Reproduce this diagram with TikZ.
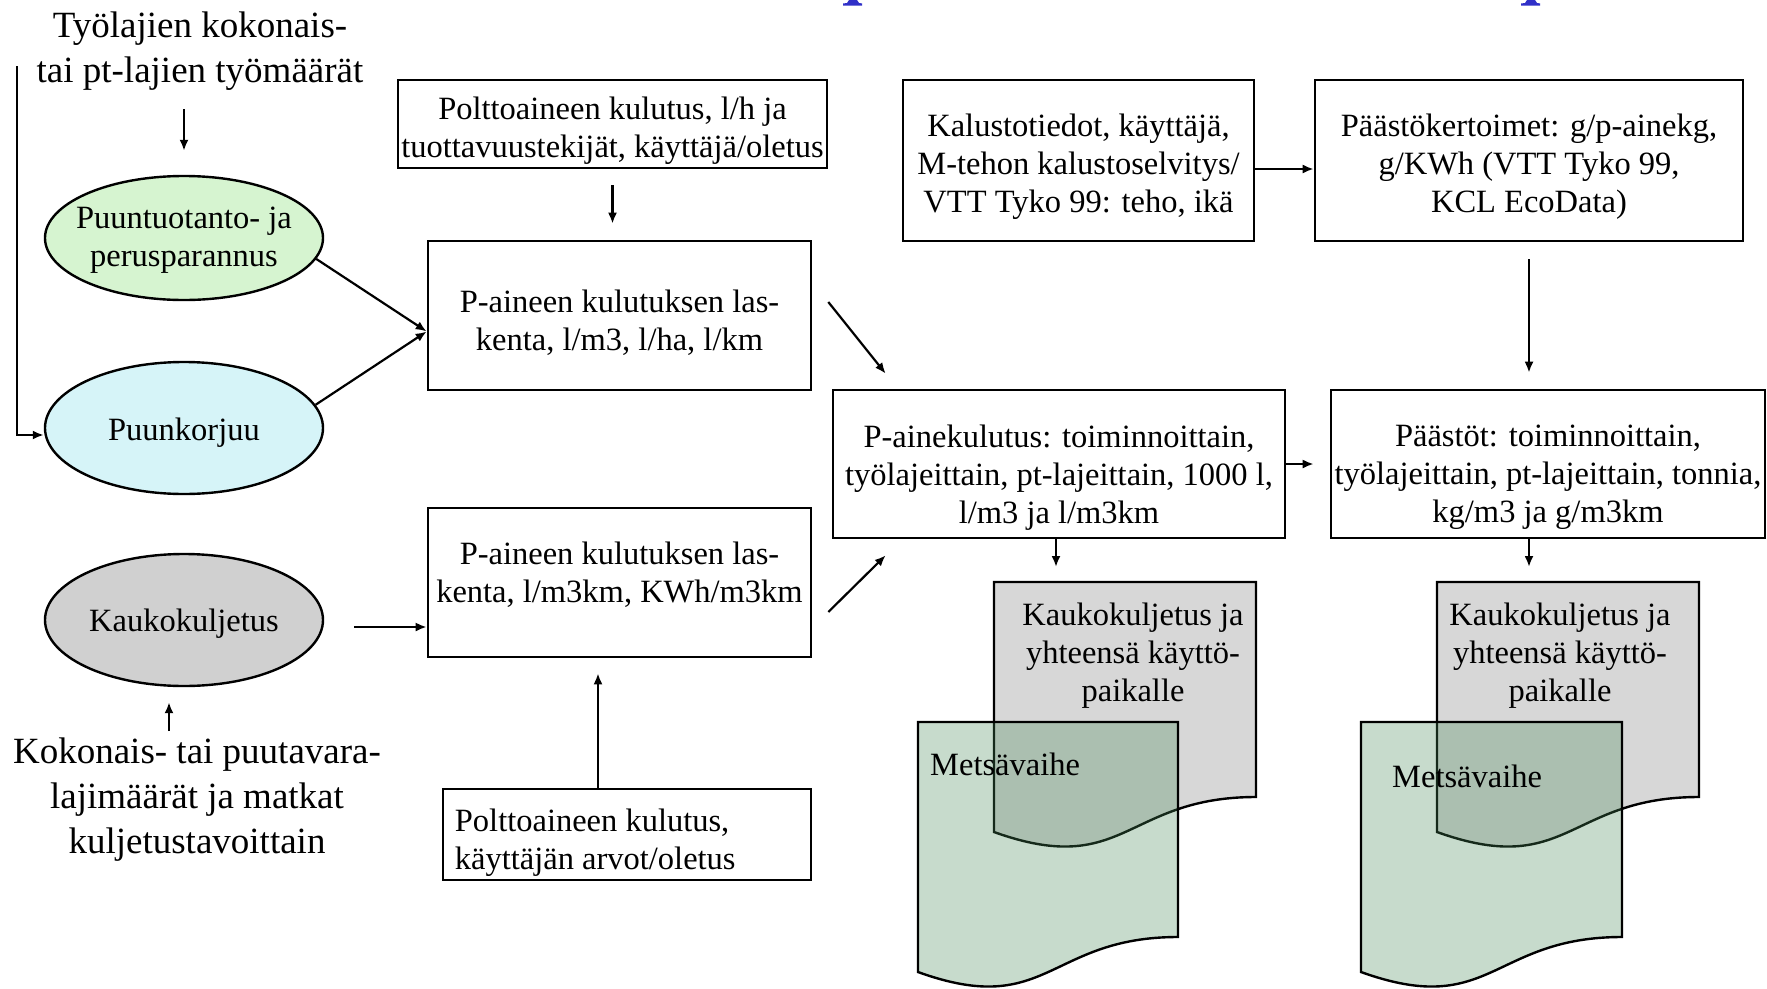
\documentclass[tikz,border=0pt]{standalone}
\usepackage{fontspec}
\setmainfont{Liberation Serif}
\usetikzlibrary{arrows.meta,shapes.geometric,calc}
\newcommand\bxf{\fontsize{32.5}{38}\selectfont}
\newcommand\bgf{\fontsize{37}{45}\selectfont}
\definecolor{elgreen}{RGB}{214,244,208}
\definecolor{elcyan}{RGB}{214,244,248}
\definecolor{elgrey}{RGB}{208,208,208}
\definecolor{docgrey}{RGB}{215,215,215}
\definecolor{docgreen}{RGB}{72,138,88}
\definecolor{ttlblue}{RGB}{48,48,200}
\tikzset{
 box/.style={draw, line width=2.6pt, fill=white, inner sep=0pt},
 ell/.style={ellipse, draw, line width=2.4pt, inner sep=0pt, minimum width=278pt, minimum height=132pt},
 btxt/.style={inner sep=0pt, align=center, font=\bxf},
 arr/.style={line width=2.2pt, -{Latex[length=11pt,width=9pt]}},
 lbl/.style={inner sep=0pt, align=center, font=\bgf},
 docline/.style={draw, line width=2.4pt, line join=miter}
}
\begin{document}
\begin{tikzpicture}[x=1pt,y=-1pt]
\useasboundingbox (0,0) rectangle (1767,988);
\clip (0,0) rectangle (1767,988);
\fill[white] (0,0) rectangle (1767,988);
% title fragments
\fill[ttlblue] (849,0) -- (857,0) -- (859,3) -- (862,3.5) -- (862,5.5) -- (843,5.5) -- (843,3.5) -- (847,3) -- cycle;
\fill[ttlblue] (1527,0) -- (1535,0) -- (1537,3) -- (1540,3.5) -- (1540,5.5) -- (1521,5.5) -- (1521,3.5) -- (1525,3) -- cycle;
% labels
\node[lbl] (t1) at (200,51) {Työlajien kokonais-\\tai pt-lajien työmäärät};
\node[lbl] (t2) at (197,799.5) {Kokonais- tai puutavara-\\lajimäärät ja matkat\\kuljetustavoittain};
% ellipses
\node[ell, fill=elgreen, minimum height=124pt] (e1) at (184,238) {};
\node[ell, fill=elcyan] (e2) at (184,428) {};
\node[ell, fill=elgrey] (e3) at (184,620) {};
\node[btxt] (e1t) at ([shift={(0,2)}]e1.center) {Puuntuotanto- ja\\perusparannus};
\node[btxt] (e2t) at ([shift={(0,4.5)}]e2.center) {Puunkorjuu};
\node[btxt] (e3t) at ([shift={(0,3.5)}]e3.center) {Kaukokuljetus};
% boxes
\node[box, minimum width=429pt, minimum height=88pt] (A) at (612.5,124) {};
\node[box, minimum width=383pt, minimum height=149pt] (B) at (619.5,315.5) {};
\node[box, minimum width=383pt, minimum height=149pt] (C) at (619.5,582.5) {};
\node[box, minimum width=368pt, minimum height=91pt] (D) at (627,834.5) {};
\node[box, minimum width=452pt, minimum height=148pt] (E) at (1059,464) {};
\node[box, minimum width=351pt, minimum height=161pt] (F) at (1078.5,160.5) {};
\node[box, minimum width=428pt, minimum height=161pt] (G) at (1529,160.5) {};
\node[box, minimum width=434pt, minimum height=148pt] (H) at (1548,464) {};
\node[btxt] (At) at ([shift={(0,7)}]A.center) {Polttoaineen kulutus, l/h ja\\tuottavuustekijät, käyttäjä/oletus};
\node[btxt] (Bt) at ([shift={(0,7)}]B.center) {P-aineen kulutuksen las-\\kenta, l/m3, l/ha, l/km};
\node[btxt] (Ct) at ([shift={(0,-8)}]C.center) {P-aineen kulutuksen las-\\kenta, l/m3km, KWh/m3km};
\node[btxt, align=left, anchor=west] (Dt) at ([shift={(13,8)}]D.west) {Polttoaineen kulutus,\\käyttäjän arvot/oletus};
\node[btxt] (Et) at ([shift={(0,13.5)}]E.center) {P-ainekulutus: toiminnoittain,\\työlajeittain, pt-lajeittain, 1000 l,\\l/m3 ja l/m3km};
\node[btxt] (Ft) at ([shift={(0,6)}]F.center) {Kalustotiedot, käyttäjä,\\M-tehon kalustoselvitys/\\VTT Tyko 99: teho, ikä};
\node[btxt] (Gt) at ([shift={(0,6)}]G.center) {Päästökertoimet: g/p-ainekg,\\g/KWh (VTT Tyko 99,\\KCL EcoData)};
\node[btxt] (Ht) at ([shift={(0,13.5)}]H.center) {Päästöt: toiminnoittain,\\työlajeittain, pt-lajeittain, tonnia,\\kg/m3 ja g/m3km};
% free ends
\coordinate (t1line) at (17,66);
\coordinate (t1arr) at (184,109);
\coordinate (t2arr) at (169,731);
\coordinate (d1) at (1056,567);
\coordinate (d2) at (1529,567);
% connectors
\draw[arr] (t1line) |- ([shift={(0,7)}]e2.west);
\draw[arr] (t1arr) -- ([shift={(0,-24)}]e1.north);
\draw[arr] (e1.-9) -- ([shift={(0,16)}]B.west);
\draw[arr] (e2.10) -- ([shift={(0,16)}]B.west);
\draw[arr] ([shift={(0,16)}]A.south) -- ([shift={(-7,-16)}]B.north);
\draw[arr] ([shift={(16,-13.5)}]B.east) -- ([shift={(54,-15)}]E.north west);
\draw[arr] ([shift={(16,29.5)}]C.east) -- ([shift={(54,16)}]E.south west);
\draw[arr] ([shift={(30,7)}]e3.east) -- ([shift={(0,44.5)}]C.west);
\draw[arr] (t2arr) -- ([shift={(-15,15)}]e3.south);
\draw[arr] ([shift={(-29,0)}]D.north) -- ([shift={(-21.5,15)}]C.south);
\draw[arr] ([shift={(0,8.5)}]F.east) -- ([shift={(0,8.5)}]G.west);
\draw[arr] ([shift={(0,17)}]G.south) -- ($(G.south|-H.north)+(0,-16)$);
\draw[arr] (E.east) -- ([shift={(-16,0)}]H.west);
\draw[arr] (E.south -| d1) -- (d1);
\draw[arr] (H.south -| d2) -- (d2);
% documents
\path[docline, fill=docgrey] (994,582) -- (1256,582) -- (1256,797) .. controls (1125,797) and (1125,879) .. (994,832) -- cycle;
\path[docline, fill=docgrey] (1437,582) -- (1699,582) -- (1699,797) .. controls (1568,797) and (1568,879) .. (1437,832) -- cycle;
\node[btxt] (k1) at (1133,655.5) {Kaukokuljetus ja\\yhteensä käyttö-\\paikalle};
\node[btxt] (k2) at (1560,655.5) {Kaukokuljetus ja\\yhteensä käyttö-\\paikalle};
\path[docline, fill=docgreen, fill opacity=0.3] (918,722) -- (1178,722) -- (1178,937) .. controls (1048,937) and (1048,1019) .. (918,972) -- cycle;
\path[docline, fill=docgreen, fill opacity=0.3] (1361,722) -- (1622,722) -- (1622,937) .. controls (1491.5,937) and (1491.5,1019) .. (1361,972) -- cycle;
\node[btxt, anchor=west] (m1) at (930,764) {Metsävaihe};
\node[btxt, anchor=west] (m2) at (1392,776) {Metsävaihe};
\end{tikzpicture}
\end{document}
